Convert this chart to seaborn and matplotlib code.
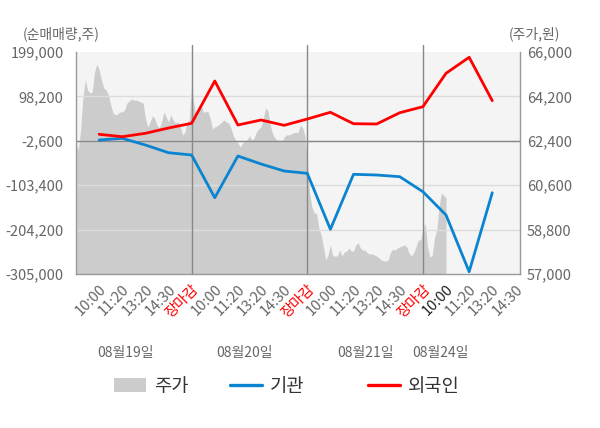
import numpy as np
import matplotlib
matplotlib.use("Agg")
import matplotlib.pyplot as plt
import seaborn as sns
from matplotlib.patches import Patch
from matplotlib.lines import Line2D

sns.set_style("white")
plt.rcParams['font.family'] = ['Noto Sans CJK KR', 'DejaVu Sans']

# x tick labels (one slot each), days separated at 장마감
tick_labels = ['10:00', '11:20', '13:20', '14:30', '장마감',
               '10:00', '11:20', '13:20', '14:30', '장마감',
               '10:00', '11:20', '13:20', '14:30', '장마감',
               '10:00', '11:20', '13:20', '14:30']
day_labels = ['08월19일', '08월20일', '08월21일', '08월24일']
day_label_pos = [2.12, 7.3, 12.5, 15.76]

# net buy volume (주) per slot 1..18
foreign = [12150, 6710, 14420, 26460, 37130, 133160, 33270, 44620, 32590,
           46890, 62100, 36220, 35540, 61190, 74810, 150640, 186970, 88440]
inst = [-790, 3070, -12140, -29620, -34840, -131780, -37110, -55270, -71170,
        -76390, -203530, -78660, -80250, -84100, -118160, -171060, -299780, -120430]

# stock price (원), sampled evenly from slot 0 to slot 16
price = [62310, 62030, 62840, 64180, 64870, 64460, 64340, 64380, 65190, 65510,
         65270, 64870, 64540, 64460, 64260, 63850, 63530, 63450, 63490, 63570,
         63570, 63650, 63930, 64010, 64100, 64050, 64050, 64010, 63970, 63930,
         63320, 62960, 63160, 63410, 63320, 63040, 62920, 63160, 63570, 63370,
         63160, 63450, 63240, 63120, 63160, 63040, 62640, 62720, 63160, 63240,
         64780, 63850, 63320, 63650, 63890, 63570, 63570, 63610, 63320, 62880,
         62960, 63000, 63080, 63160, 63240, 63160, 63120, 62920, 62600, 62430,
         62310, 62150, 62310, 62390, 62430, 62600, 62430, 62510, 62760, 62880,
         62960, 63320, 63730, 63610, 63040, 62680, 62510, 62430, 62390, 62350,
         62550, 62640, 62640, 62680, 62720, 62760, 62720, 63040, 62920, 62600,
         61620, 60280, 59720, 59470, 59470, 58870, 58580, 58100, 57570, 57770,
         58180, 57730, 57730, 57730, 57970, 57730, 57890, 57930, 58050, 57930,
         57930, 58180, 58260, 58050, 57970, 57970, 57850, 57810, 57810, 57770,
         57730, 57650, 57570, 57530, 57530, 57570, 57890, 58010, 57970, 58050,
         58100, 58140, 58180, 58100, 57850, 57730, 57850, 58100, 58380, 58380,
         58780, 59070, 58100, 57690, 57730, 58460, 58780, 59720, 60280, 60200,
         60080]

vol_ticks = [-305000, -204200, -103400, -2600, 98200, 199000]
price_ticks = [57000, 58800, 60600, 62400, 64200, 66000]

slots = np.arange(1, len(foreign) + 1)
price_x = np.linspace(0, 16, len(price))
xmax = 19.2

fig = plt.figure(figsize=(6, 4.28), dpi=100)
ax_p = fig.add_axes([0.1267, 0.3598, 0.74, 0.5187])
ax_p.set_facecolor('#f4f4f4')
ax_p.fill_between(price_x, price, 57000, color='#cccccc', lw=0)
ax_p.set_ylim(57000, 66000)
ax_p.set_xlim(0, xmax)

ax_v = ax_p.twinx()
ax_v.yaxis.tick_left()
ax_p.yaxis.tick_right()
ax_p.set_yticks(price_ticks)
ax_p.set_yticklabels([f'{v:,}' for v in price_ticks])
ax_v.set_ylim(-305000, 199000)
ax_v.set_yticks(vol_ticks)
ax_v.set_yticklabels([f'{v:,}' for v in vol_ticks])
for v in vol_ticks[1:-1]:
    ax_v.axhline(v, color='#dddddd', lw=1, zorder=1)
ax_v.axhline(-2600, color='#888888', lw=1, zorder=1)
for d in [5, 10, 15]:
    ax_v.axvline(d, ymin=0, ymax=1.03, color='#888888', lw=1, clip_on=False, zorder=1)

sns.lineplot(x=slots, y=inst, color='#0a84d0', lw=2, ax=ax_v, legend=False, zorder=3)
sns.lineplot(x=slots, y=foreign, color='#ff0000', lw=2, ax=ax_v, legend=False, zorder=3)
ax_v.set_xlabel('')
ax_v.set_ylabel('')
ax_v.set_xlim(0, xmax)

for a in (ax_p, ax_v):
    for s in a.spines.values():
        s.set_visible(False)
for s in ('left', 'right', 'bottom'):
    ax_v.spines[s].set_visible(True)
    ax_v.spines[s].set_color('#999999')
    ax_v.spines[s].set_linewidth(1)

ax_v.tick_params(axis='y', length=0, pad=9, labelsize=10.5, labelcolor='#666666')
ax_p.tick_params(axis='y', length=0, pad=5, labelsize=10.5, labelcolor='#666666')

# x axis (owned by ax_p, twin hides its own): labels per slot, marks at day boundaries
ax_p.xaxis.remove_overlapping_locs = False
ax_p.set_xticks(np.arange(1, len(tick_labels) + 1))
ax_p.set_xticklabels(tick_labels, rotation=45, ha='right', va='top', rotation_mode='anchor')
ax_p.tick_params(axis='x', which='major', length=0, pad=6, labelsize=10.5, labelcolor='#666666')
ax_p.set_xticks([0, 5, 10, 15, xmax], minor=True)
ax_p.tick_params(axis='x', which='minor', length=4, width=1, color='#999999', direction='out')
for i, t in enumerate(ax_p.get_xticklabels()):
    if tick_labels[i] == '장마감':
        t.set_color('#ff0000')
    elif i == 15:
        t.set_color('#222222')

for pos, lab in zip(day_label_pos, day_labels):
    ax_v.text(pos, -0.355, lab, transform=ax_v.get_xaxis_transform(), ha='center', va='center',
              fontsize=10, color='#666666')

fig.text(0.038, 0.92, '(순매매량,주)', fontsize=10, color='#666666', ha='left', va='center')
fig.text(0.848, 0.92, '(주가,원)', fontsize=10, color='#666666', ha='left', va='center')

# legend entries placed one by one (uneven spacing in the original)
entries = [(Patch(facecolor='#cccccc', edgecolor='none', label='주가'), 0.19),
           (Line2D([0], [0], color='#0a84d0', lw=2.4, label='기관'), 0.383),
           (Line2D([0], [0], color='#ff0000', lw=2.4, label='외국인'), 0.613)]
for h, xpos in entries:
    fig.legend(handles=[h], loc='center left', bbox_to_anchor=(xpos, 0.098), frameon=False,
               borderpad=0, borderaxespad=0, fontsize=13.5, handlelength=1.7,
               handleheight=0.8, handletextpad=0.45, labelcolor='#333333')

fig.savefig('out.png', dpi=100)
